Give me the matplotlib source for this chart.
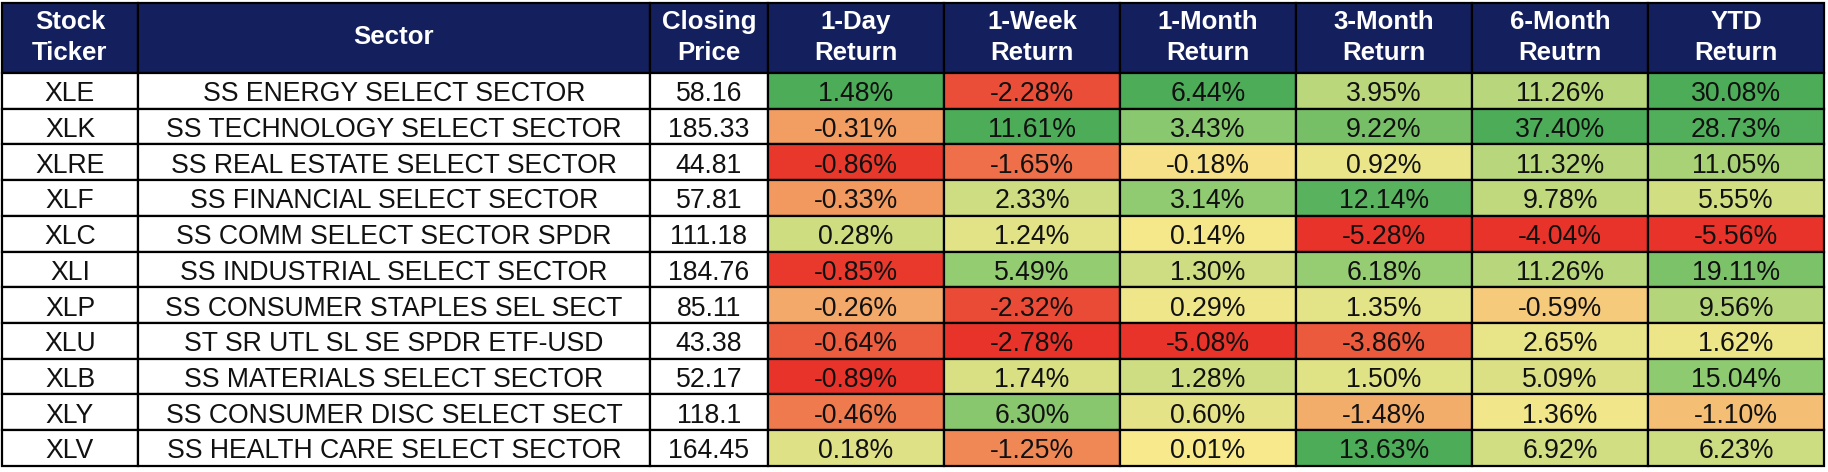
import matplotlib.pyplot as plt
import numpy as np
from matplotlib.colors import LinearSegmentedColormap, TwoSlopeNorm
from matplotlib.patches import Rectangle

plt.rcParams['font.family'] = ['Liberation Sans', 'DejaVu Sans']

# table data
tickers = ['XLE', 'XLK', 'XLRE', 'XLF', 'XLC', 'XLI', 'XLP', 'XLU', 'XLB', 'XLY', 'XLV']
sectors = ['SS ENERGY SELECT SECTOR', 'SS TECHNOLOGY SELECT SECTOR',
           'SS REAL ESTATE SELECT SECTOR', 'SS FINANCIAL SELECT SECTOR',
           'SS COMM SELECT SECTOR SPDR', 'SS INDUSTRIAL SELECT SECTOR',
           'SS CONSUMER STAPLES SEL SECT', 'ST SR UTL SL SE SPDR ETF-USD',
           'SS MATERIALS SELECT SECTOR', 'SS CONSUMER DISC SELECT SECT',
           'SS HEALTH CARE SELECT SECTOR']
closing = ['58.16', '185.33', '44.81', '57.81', '111.18', '184.76',
           '85.11', '43.38', '52.17', '118.1', '164.45']
ret_1d = [1.48, -0.31, -0.86, -0.33, 0.28, -0.85, -0.26, -0.64, -0.89, -0.46, 0.18]
ret_1w = [-2.28, 11.61, -1.65, 2.33, 1.24, 5.49, -2.32, -2.78, 1.74, 6.30, -1.25]
ret_1m = [6.44, 3.43, -0.18, 3.14, 0.14, 1.30, 0.29, -5.08, 1.28, 0.60, 0.01]
ret_3m = [3.95, 9.22, 0.92, 12.14, -5.28, 6.18, 1.35, -3.86, 1.50, -1.48, 13.63]
ret_6m = [11.26, 37.40, 11.32, 9.78, -4.04, 11.26, -0.59, 2.65, 5.09, 1.36, 6.92]
ret_ytd = [30.08, 28.73, 11.05, 5.55, -5.56, 19.11, 9.56, 1.62, 15.04, -1.10, 6.23]

headers = ['Stock\nTicker', 'Sector', 'Closing\nPrice', '1-Day\nReturn', '1-Week\nReturn',
           '1-Month\nReturn', '3-Month\nReturn', '6-Month\nReutrn', 'YTD\nReturn']

returns = [ret_1d, ret_1w, ret_1m, ret_3m, ret_6m, ret_ytd]

# layout in pixels
col_w = [136, 512, 118, 176, 176, 176, 176, 176, 176]
x0 = 2
top = 3
head_h = 70
row_h = 35.7
edges = np.concatenate([[x0], x0 + np.cumsum(col_w)])

navy = '#14205e'
cmap = LinearSegmentedColormap.from_list(
    'ryg', ['#e8332a', '#ef7d50', '#f8e98c', '#8eca70', '#4cac58'])

fig = plt.figure(figsize=(18.28, 4.72), dpi=100)
ax = fig.add_axes([0, 0, 1, 1])
ax.set_xlim(0, 1828)
ax.set_ylim(472, 0)
ax.axis('off')

lw = 1.6
fs_body = 19.2
fs_head = 18.6
cap_px = 0.716 * fs_body * 100 / 72  # cap height in pixels

# header
for j, h in enumerate(headers):
    ax.add_patch(Rectangle((edges[j], top), col_w[j], head_h, facecolor=navy,
                           edgecolor='black', lw=lw))
    ax.text(edges[j] + col_w[j] / 2, top + head_h / 2 - 0.5, h, ha='center', va='center',
            color='white', fontsize=fs_head, fontweight='bold', linespacing=1.37)

# body
for i in range(len(tickers)):
    y = top + head_h + i * row_h
    yb = y + row_h / 2 + 1 + cap_px / 2
    cells = [tickers[i], sectors[i], closing[i]]
    for j, txt in enumerate(cells):
        ax.add_patch(Rectangle((edges[j], y), col_w[j], row_h, facecolor='white',
                               edgecolor='black', lw=lw))
        ax.text(edges[j] + col_w[j] / 2, yb, txt, ha='center', va='baseline',
                color='#111111', fontsize=fs_body)
    for k, vals in enumerate(returns):
        j = k + 3
        norm = TwoSlopeNorm(vmin=min(vals), vcenter=0, vmax=max(vals))
        v = vals[i]
        ax.add_patch(Rectangle((edges[j], y), col_w[j], row_h, facecolor=cmap(norm(v)),
                               edgecolor='black', lw=lw))
        ax.text(edges[j] + col_w[j] / 2, yb, f'{v:.2f}%', ha='center', va='baseline',
                color='#111111', fontsize=fs_body)

fig.savefig('out.png', dpi=100, facecolor='white')
